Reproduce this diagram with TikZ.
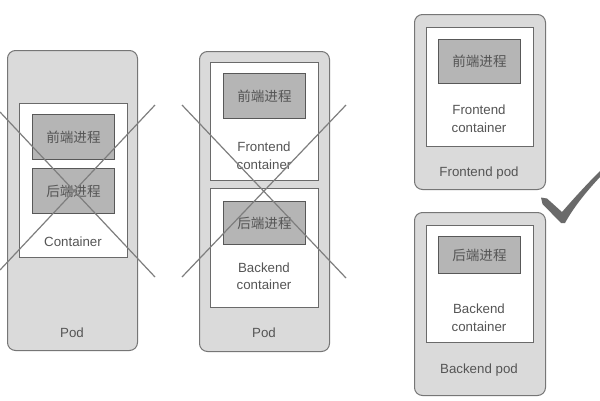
\documentclass[tikz,border=0pt]{standalone}
\usepackage{fontspec}
\setmainfont{Liberation Sans}
\newfontfamily\cjk{Noto Sans CJK SC}
\definecolor{podfill}{HTML}{DADADA}
\definecolor{podline}{HTML}{767676}
\definecolor{contline}{HTML}{6A6A6A}
\definecolor{procfill}{HTML}{B5B5B5}
\definecolor{procline}{HTML}{585858}
\definecolor{txtc}{HTML}{555555}
\definecolor{crossc}{HTML}{7E7E7E}
\definecolor{checkc}{HTML}{6A6A6A}
\tikzset{
  podbox/.style={draw=podline, fill=podfill, line width=1pt, rounded corners=8pt, anchor=north west, inner sep=0pt},
  contbox/.style={draw=contline, fill=white, line width=0.9pt, anchor=north west, inner sep=0pt},
  procbox/.style={draw=procline, fill=procfill, line width=0.9pt, anchor=north west, inner sep=0pt},
  lbl/.style={text=txtc, font=\fontsize{13.3}{15}\selectfont, inner sep=0pt},
  clbl/.style={text=txtc, font=\cjk\fontsize{13.6}{15}\selectfont, inner sep=0pt},
  crossline/.style={draw=crossc, line width=1.2pt},
}
\begin{document}
\begin{tikzpicture}[x=1pt,y=-1pt]
\useasboundingbox[fill=white] (0,0) rectangle (600,400);
% ---- Pod 1 ----
\node[podbox, minimum width=130pt, minimum height=300pt] (pod1) at (7,50) {};
\node[contbox, minimum width=108pt, minimum height=154pt] (c1) at (19,103) {};
\node[procbox, minimum width=82pt, minimum height=45pt] (p1a) at (32,114) {};
\node[procbox, minimum width=82pt, minimum height=45pt] (p1b) at (32,168) {};
\node[clbl] (t1a) at (p1a.center) {前端进程};
\node[clbl] (t1b) at (p1b.center) {后端进程};
\node[lbl] (t1c) at (73,242) {Container};
\node[lbl] (t1p) at (72,333) {Pod};
\coordinate (x1a) at (0,112);
\coordinate (x1b) at (155,277);
\coordinate (x1c) at (155,105);
\coordinate (x1d) at (0,270);
\draw[crossline] (x1a) -- (x1b);
\draw[crossline] (x1c) -- (x1d);
% ---- Pod 2 ----
\node[podbox, minimum width=130pt, minimum height=300pt] (pod2) at (199,51) {};
\node[contbox, minimum width=108pt, minimum height=118pt] (c2f) at (210,62) {};
\node[procbox, minimum width=82pt, minimum height=45pt] (p2f) at (223,73) {};
\node[clbl] (t2f) at (p2f.center) {前端进程};
\node[lbl] (t2f1) at (264,147) {Frontend};
\node[lbl] (t2f2) at (264,165) {container};
\node[contbox, minimum width=108pt, minimum height=119pt] (c2b) at (210,188) {};
\node[procbox, minimum width=82pt, minimum height=43pt] (p2b) at (223,201) {};
\node[clbl] (t2b) at (p2b.center) {后端进程};
\node[lbl] (t2b1) at (264,268) {Backend};
\node[lbl] (t2b2) at (264,285) {container};
\node[lbl] (t2p) at (264,333) {Pod};
\coordinate (x2a) at (182,105);
\coordinate (x2b) at (346,278);
\coordinate (x2c) at (346,105);
\coordinate (x2d) at (182,277);
\draw[crossline] (x2a) -- (x2b);
\draw[crossline] (x2c) -- (x2d);
% ---- Frontend pod ----
\node[podbox, minimum width=131pt, minimum height=175pt] (pod3) at (414,14) {};
\node[contbox, minimum width=107pt, minimum height=119pt] (c3) at (426,27) {};
\node[procbox, minimum width=82pt, minimum height=44pt] (p3) at (438,39) {};
\node[clbl] (t3) at (p3.center) {前端进程};
\node[lbl] (t31) at (479,110) {Frontend};
\node[lbl] (t32) at (479,128) {container};
\node[lbl] (t3p) at (479,173) {Frontend pod};
% ---- Backend pod ----
\node[podbox, minimum width=131pt, minimum height=183pt] (pod4) at (414,212) {};
\node[contbox, minimum width=107pt, minimum height=117pt] (c4) at (426,225) {};
\node[procbox, minimum width=82pt, minimum height=37pt] (p4) at (438,236) {};
\node[clbl] (t4) at (p4.center) {后端进程};
\node[lbl] (t41) at (479,309) {Backend};
\node[lbl] (t42) at (479,327) {container};
\node[lbl] (t4p) at (479,370) {Backend pod};
% ---- check mark ----
\fill[checkc] (541,197.5) -- (547,198.5) -- (562,212) .. controls (575,197) and (588,183) .. (600,171)
  -- (600,177) .. controls (588,190) and (575,205) .. (565,223) -- (561,223) -- (542.5,204) -- cycle;
\end{tikzpicture}
\end{document}
